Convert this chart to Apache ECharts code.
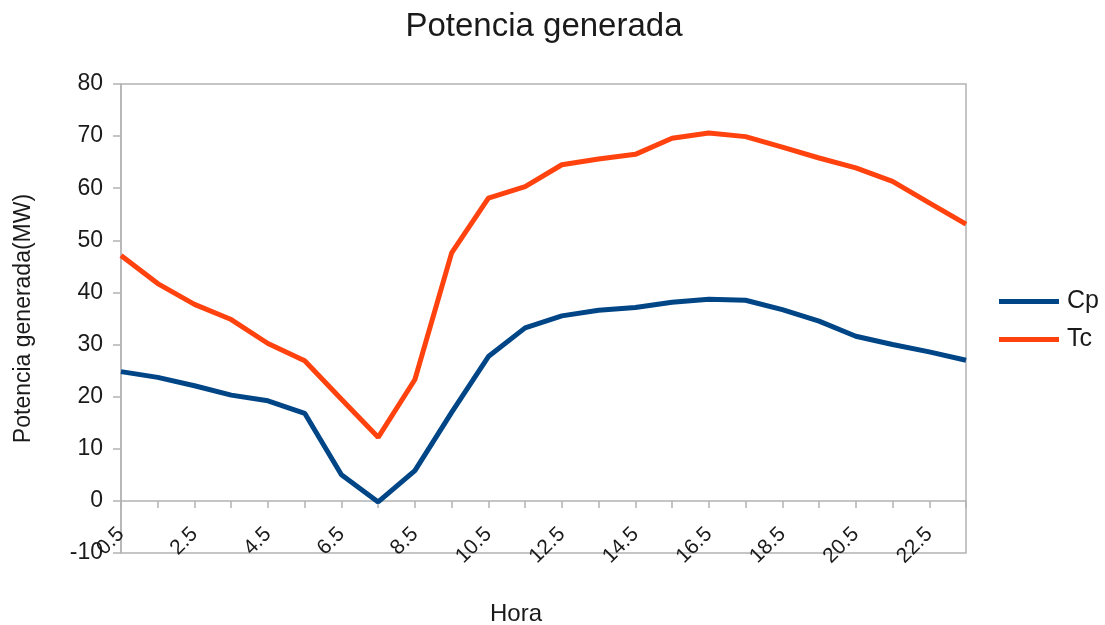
<!DOCTYPE html>
<html>
<head>
<meta charset="utf-8">
<script src="https://cdn.jsdelivr.net/npm/echarts@6/dist/echarts.min.js"></script>
<style>
    html, body { margin: 0; padding: 0; background: #ffffff; }
    #chartBox { width: 1105px; height: 625px; }
</style>
</head>
<body>
<div id="chartBox"></div>
<script>
/**
 * Potencia generada
 */
var horas = ['0.5', '1.5', '2.5', '3.5', '4.5', '5.5', '6.5', '7.5', '8.5', '9.5', '10.5', '11.5',
    '12.5', '13.5', '14.5', '15.5', '16.5', '17.5', '18.5', '19.5', '20.5', '21.5', '22.5', '23.5'];

var cpValues = [24.8, 23.7, 22.1, 20.3, 19.2, 16.8, 5.0, -0.2, 5.8, 17.0, 27.7, 33.2,
    35.5, 36.6, 37.1, 38.1, 38.7, 38.5, 36.7, 34.5, 31.6, 30.0, 28.6, 27.0];

var tcValues = [47.1, 41.7, 37.7, 34.8, 30.2, 26.9, 19.5, 12.2, 23.3, 47.6, 58.1, 60.3,
    64.5, 65.6, 66.5, 69.6, 70.6, 69.9, 67.9, 65.8, 63.9, 61.3, 57.2, 53.1];

var seriesNames = ['Cp', 'Tc'];
var seriesColors = ['#004586', '#ff420e'];

var _font = '"Liberation Sans", Arial, sans-serif';

function getParams(){
    return {
        backgroundColor: '#ffffff',
        animation: false,
        title: {
            text: 'Potencia generada',
            left: 539,
            top: 5,
            textAlign: 'center',
            textStyle: {
                fontFamily: _font,
                fontSize: 33,
                fontWeight: 'normal',
                color: '#1a1a1a'
            }
        },
        legend: {
            orient: 'vertical',
            left: 999,
            top: 289,
            padding: 0,
            itemWidth: 60,
            itemHeight: 5,
            itemGap: 13,
            icon: 'rect',
            textStyle: {
                fontFamily: _font,
                fontSize: 25,
                color: '#1a1a1a',
                padding: [0, 0, 0, 3]
            },
            data: seriesNames
        },
        grid: {
            left: 121,
            right: 139,
            top: 84,
            bottom: 72,
            show: true,
            borderColor: '#b3b3b3',
            borderWidth: 1.5,
            outerBoundsMode: 'none',
            containLabel: false
        },
        xAxis: {
            type: 'category',
            data: horas,
            boundaryGap: false,
            // eje en y = 0 (10 unidades por debajo del borde)
            offset: -52,
            name: 'Hora',
            nameLocation: 'middle',
            nameGap: 101,
            nameTextStyle: {
                fontFamily: _font,
                fontSize: 24,
                color: '#1a1a1a',
                padding: [0, 55, 0, 0]
            },
            axisLine: {
                onZero: false,
                lineStyle: { color: '#b3b3b3', width: 1.5 }
            },
            axisTick: {
                show: true,
                interval: 0,
                length: 7,
                lineStyle: { color: '#b3b3b3', width: 1.5 }
            },
            axisLabel: {
                interval: 1,
                rotate: 45,
                margin: 30,
                fontFamily: _font,
                fontSize: 21,
                color: '#1a1a1a'
            },
            splitLine: { show: false }
        },
        yAxis: {
            type: 'value',
            min: -10,
            max: 80,
            interval: 10,
            name: 'Potencia generada(MW)',
            nameLocation: 'middle',
            nameGap: 86,
            nameTextStyle: {
                fontFamily: _font,
                fontSize: 23,
                color: '#1a1a1a'
            },
            axisLine: {
                show: true,
                lineStyle: { color: '#b3b3b3', width: 1.5 }
            },
            axisTick: {
                show: true,
                length: 8,
                lineStyle: { color: '#b3b3b3', width: 1.5 }
            },
            axisLabel: {
                margin: 18,
                fontFamily: _font,
                fontSize: 23,
                color: '#1a1a1a'
            },
            splitLine: { show: false }
        },
        series: [
            {
                name: seriesNames[0],
                type: 'line',
                data: cpValues,
                symbol: 'none',
                color: seriesColors[0],
                lineStyle: { width: 5, color: seriesColors[0] }
            },
            {
                name: seriesNames[1],
                type: 'line',
                data: tcValues,
                symbol: 'none',
                color: seriesColors[1],
                lineStyle: { width: 5, color: seriesColors[1] }
            }
        ]
    };
}

var _chart = echarts.init(document.getElementById('chartBox'));
_chart.setOption(getParams());
</script>
</body>
</html>
